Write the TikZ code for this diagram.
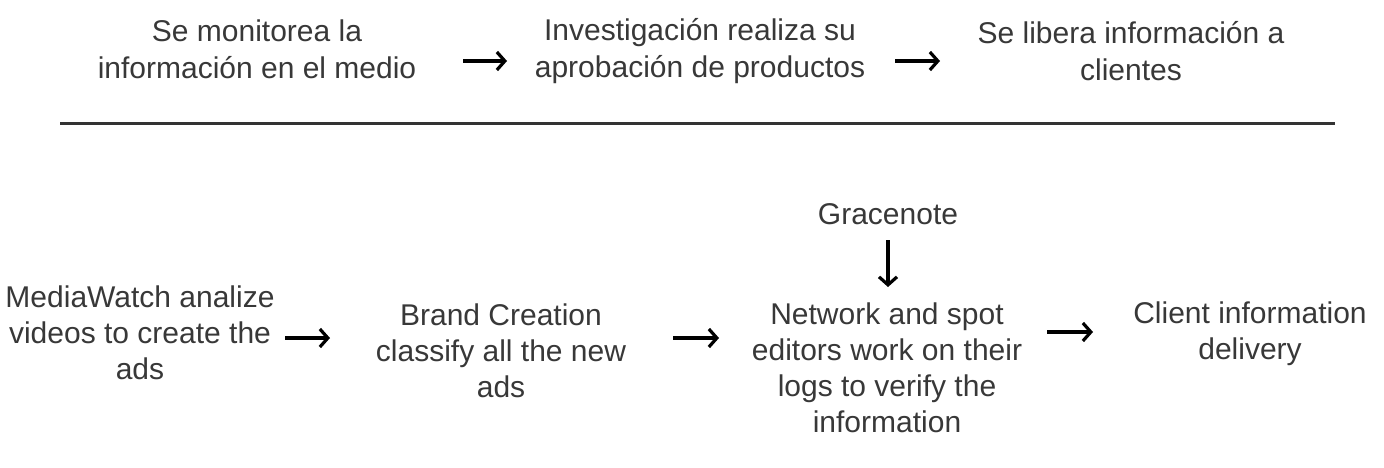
\documentclass[tikz,border=0pt]{standalone}
\usepackage{fontspec}
\setmainfont{Liberation Sans}
\usetikzlibrary{arrows.meta}
\definecolor{txt}{HTML}{383838}
\definecolor{rule}{HTML}{333333}
\tikzset{
  lbl/.style={align=center, inner sep=0pt, text=txt, font=\fontsize{30}{37}\selectfont},
  lblb/.style={align=center, inner sep=0pt, text=txt, font=\fontsize{30}{36}\selectfont},
  flow/.style={line width=3.2pt, -{Straight Barb[length=8pt,width=18pt]}},
}
\begin{document}
\begin{tikzpicture}[x=1pt,y=-1pt]
\useasboundingbox (0,0) rectangle (1384,467);
% top row
\node[lbl] (t1) at (257,49) {Se monitorea la\\información en el medio};
\node[lbl] (t2) at (700,51) {Investigación realiza su\\aprobación de productos};
\node[lbl] (t3) at (1131,51) {Se libera información a\\clientes};
\coordinate (a1s) at (463,61); \coordinate (a1e) at (507,61);
\coordinate (a2s) at (895,61); \coordinate (a2e) at (940,61);
\draw[flow] (a1s) -- (a1e);
\draw[flow] (a2s) -- (a2e);
% separator
\coordinate (r1) at (60,123); \coordinate (r2) at (1335,123);
\draw[rule, line width=3pt] (r1) -- (r2);
% bottom row
\node[lblb] (g) at (888,214) {Gracenote};
\node[lblb] (b1) at (140,333) {MediaWatch analize\\videos to create the\\ads};
\node[lblb] (b2) at (501,351) {Brand Creation\\classify all the new\\ads};
\node[lblb] (b3) at (887,368) {Network and spot\\editors work on their\\logs to verify the\\information};
\node[lblb] (b4) at (1250,334) {Client information\\delivery};
\coordinate (c1s) at (285,338); \coordinate (c1e) at (330,338);
\coordinate (c2s) at (673,338); \coordinate (c2e) at (719,338);
\coordinate (c3s) at (1047,332); \coordinate (c3e) at (1093,332);
\coordinate (gs) at (888,240); \coordinate (ge) at (888,287);
\draw[flow] (c1s) -- (c1e);
\draw[flow] (c2s) -- (c2e);
\draw[flow] (c3s) -- (c3e);
\draw[flow] (gs) -- (ge);
\end{tikzpicture}
\end{document}
